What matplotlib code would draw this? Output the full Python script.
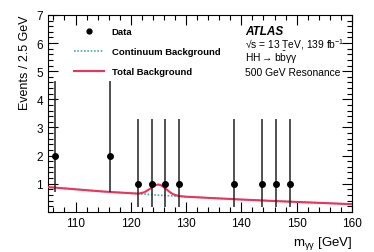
import numpy as np
import matplotlib.pyplot as plt
from matplotlib.ticker import MultipleLocator
from matplotlib.lines import Line2D

plt.rcParams['font.family'] = ['Liberation Sans', 'DejaVu Sans']
plt.rcParams['mathtext.default'] = 'regular'

# data points (2.5 GeV bins)
data_x = [106.25, 116.25, 121.25, 123.75, 126.25, 128.75, 138.75, 143.75, 146.25, 148.75]
data_y = [2, 2, 1, 1, 1, 1, 1, 1, 1, 1]
data_lo = [0.71, 0.71, 0.17, 0.17, 0.17, 0.17, 0.17, 0.17, 0.17, 0.17]
data_hi = [4.64, 4.64, 3.30, 3.30, 3.30, 3.30, 3.30, 3.30, 3.30, 3.30]

# continuum background
cont_x = [105, 107.5, 110, 112.5, 115, 117.5, 120, 122.5, 125, 127.5, 130, 132.5,
          135, 137.5, 140, 142.5, 145, 147.5, 150, 152.5, 155, 157.5, 160]
cont_y = [0.88, 0.84, 0.80, 0.76, 0.72, 0.69, 0.66, 0.625, 0.59, 0.565, 0.535, 0.51,
          0.485, 0.46, 0.435, 0.415, 0.39, 0.37, 0.35, 0.33, 0.31, 0.29, 0.27]

# total background around the resonance peak
peak_x = [121, 121.5, 122, 122.5, 123, 123.5, 124, 124.5, 125, 125.5, 126, 126.5,
          127, 127.5, 128, 128.5, 129]
peak_y = [0.65, 0.65, 0.67, 0.70, 0.76, 0.82, 0.90, 0.95, 0.97, 0.94, 0.87, 0.79,
          0.71, 0.64, 0.60, 0.57, 0.555]

red = '#f0325a'
teal = '#4aa8aa'

fig = plt.figure(figsize=(3.74, 2.53), dpi=100)
ax = fig.add_axes([0.128, 0.159, 0.813, 0.778])

tot_x = [x for x in cont_x if x < peak_x[0]] + peak_x + [x for x in cont_x if x > peak_x[-1]]
tot_y = [y for x, y in zip(cont_x, cont_y) if x < peak_x[0]] + peak_y + \
        [y for x, y in zip(cont_x, cont_y) if x > peak_x[-1]]

ax.plot(cont_x, cont_y, color=teal, lw=1.2, ls=(0, (1, 1)), zorder=2)
ax.plot(tot_x, tot_y, color=red, lw=1.5, zorder=3)

yerr = [np.array(data_y) - np.array(data_lo), np.array(data_hi) - np.array(data_y)]
ax.errorbar(data_x, data_y, yerr=yerr, fmt='o', color='black', ecolor='#222222',
            ms=4, elinewidth=1.1, capsize=0, zorder=4)

ax.set_xlim(105, 160)
ax.set_ylim(0, 7)
ax.xaxis.set_major_locator(MultipleLocator(10))
ax.xaxis.set_minor_locator(MultipleLocator(2))
ax.yaxis.set_major_locator(MultipleLocator(1))
ax.yaxis.set_minor_locator(MultipleLocator(0.2))
ax.tick_params(which='both', direction='in', top=True, right=True, labelsize=8.5, width=0.8)
ax.tick_params(which='major', length=7)
ax.tick_params(which='minor', length=3.5)
ax.set_yticks([1, 2, 3, 4, 5, 6, 7])
for s in ax.spines.values():
    s.set_linewidth(0.8)

ax.set_ylabel('Events / 2.5 GeV', fontsize=9, loc='top')
ax.set_xlabel(r'm$_{\gamma\gamma}$ [GeV]', fontsize=9.5, loc='right')

handles = [
    Line2D([], [], color='black', marker='o', ms=3.5, ls='none'),
    Line2D([], [], color=teal, lw=1.2, ls=(0, (1, 1))),
    Line2D([], [], color=red, lw=1.5),
]
leg = ax.legend(handles, ['Data', 'Continuum Background', 'Total Background'],
                loc='upper left', bbox_to_anchor=(0.058, 0.98), frameon=False,
                prop={'size': 6.8, 'weight': 'bold'}, handlelength=3.2,
                labelspacing=1.15)

tx = 0.648
ax.text(tx, 0.905, 'ATLAS', transform=ax.transAxes, fontsize=8.5,
        fontweight='bold', fontstyle='italic', va='baseline')
ax.text(tx, 0.836, '\u221as = 13 TeV, 139 fb$^{-1}$', transform=ax.transAxes,
        fontsize=7.4, va='baseline')
ax.text(tx, 0.765, r'HH$\rightarrow$b$\bar{b}\gamma\gamma$', transform=ax.transAxes,
        fontsize=7.4, va='baseline')
ax.text(tx, 0.696, '500 GeV Resonance', transform=ax.transAxes, fontsize=7.4, va='baseline')

fig.savefig('out.png', dpi=100)
